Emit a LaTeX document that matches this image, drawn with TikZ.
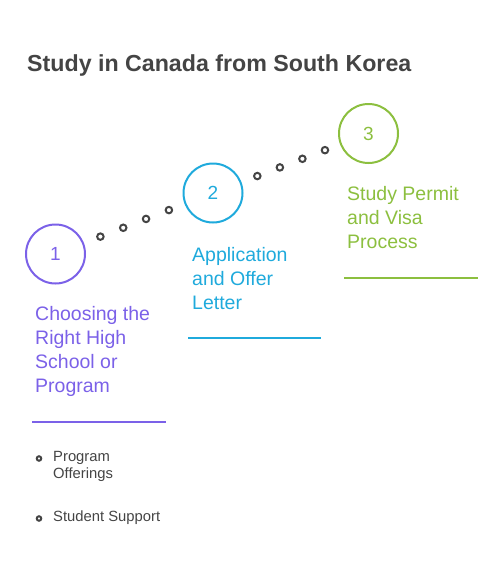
\documentclass[tikz,border=0pt]{standalone}
\usepackage{fontspec}
\setmainfont{Liberation Sans}
\usetikzlibrary{calc}
\definecolor{morado}{HTML}{7B61E8}
\definecolor{celeste}{HTML}{1FAADC}
\definecolor{verde}{HTML}{8CBF3F}
\definecolor{gris}{HTML}{444444}

\begin{document}
\begin{tikzpicture}[x=1pt,y=-1pt,
  paso/.style={circle,draw=#1,text=#1,line width=2pt,minimum size=59pt,inner sep=0pt,
    font=\fontsize{19}{19}\selectfont},
  etiqueta/.style={anchor=base west,inner sep=0pt,align=left,text=#1,
    font=\fontsize{19.5}{24}\selectfont},
  punto/.style={circle,draw=gris,line width=2pt,minimum size=6.5pt,inner sep=0pt},
  vineta/.style={circle,draw=gris,line width=2pt,minimum size=4.5pt,inner sep=0pt},
  detalle/.style={anchor=base west,inner sep=0pt,align=left,text=gris,
    font=\fontsize{14.8}{17.5}\selectfont}]
  \useasboundingbox (0,0) rectangle (501,573);

  % titulo
  \node[anchor=base west,inner sep=0pt,text=gris,font=\bfseries\fontsize{23.2}{24}\selectfont]
    (tit) at (27,71.7) {Study in Canada from South Korea};

  % pasos
  \node[paso=morado] (s1) at (55.5,254) {1};
  \node[paso=celeste] (s2) at (213,193) {2};
  \node[paso=verde] (s3) at (368.5,133.5) {3};

  % puntos entre pasos
  \foreach \t in {0.285,0.43,0.575,0.72} {
    \node[punto] at ($(s1.center)!\t!(s2.center)$) {};
    \node[punto] at ($(s2.center)!\t!(s3.center)$) {};
  }

  % textos de cada paso (base = ultima linea)
  \node[etiqueta=morado] (e1) at (35,392.7) {Choosing the\\Right High\\School or\\Program};
  \node[etiqueta=celeste] (e2) at (192,309) {Application\\and Offer\\Letter};
  \node[etiqueta=verde] (e3) at (347,248.7) {Study Permit\\and Visa\\Process};

  % lineas bajo los textos
  \draw[morado,line width=2pt] (32,421.7)--(166,421.7);
  \draw[celeste,line width=2pt] (188,337.7)--(321,337.7);
  \draw[verde,line width=2pt] (344,277.7)--(478,277.7);

  % detalles del paso 1
  \node[vineta] (v1) at (39,458.5) {};
  \node[detalle] (d1) at (53,478.8) {Program\\Offerings};
  \node[vineta] (v2) at (39,518.5) {};
  \node[detalle] (d2) at (53,521) {Student Support};
\end{tikzpicture}
\end{document}
